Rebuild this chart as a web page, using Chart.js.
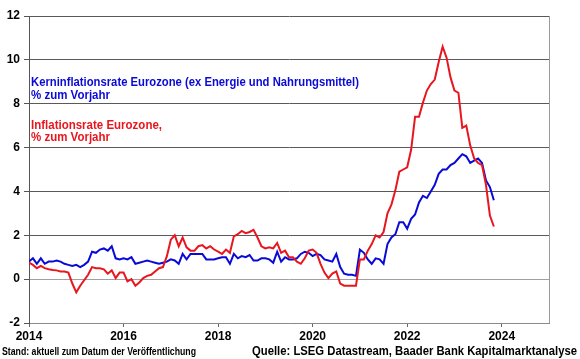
<!DOCTYPE html>
<html>
<head>
<meta charset="utf-8">
<script src="https://cdn.jsdelivr.net/npm/chart.js@4"></script>
<style>
  html, body { margin: 0; padding: 0; background: #fff; }
  #wrap { width: 580px; height: 359px; }
</style>
</head>
<body>
<div id="wrap"><canvas id="chart" width="580" height="359"></canvas></div>
<script>
// monthly values, Jan 2014 .. Nov 2023
const startYear = 2014;

// Kerninflationsrate Eurozone (ex Energie und Nahrungsmittel), % yoy
const coreRate = [
    0.8, 0.95, 0.7, 0.95, 0.7, 0.8, 0.8, 0.85, 0.8, 0.7, 0.65, 0.6,      // 2014
    0.65, 0.55, 0.65, 0.8, 1.25, 1.2, 1.35, 1.4, 1.3, 1.5, 0.95, 0.9,    // 2015
    0.95, 0.9, 1.0, 0.7, 0.75, 0.8, 0.85, 0.8, 0.75, 0.7, 0.75, 0.8,     // 2016
    0.9, 0.85, 0.7, 1.15, 0.9, 1.15, 1.15, 1.15, 1.15, 0.9, 0.9, 0.9,    // 2017
    0.95, 1.0, 1.0, 0.7, 1.15, 0.95, 1.05, 1.0, 1.1, 0.85, 0.85, 0.95,   // 2018
    0.95, 0.9, 0.75, 1.25, 0.8, 1.0, 0.9, 0.9, 0.95, 1.15, 1.25, 1.2,    // 2019
    1.05, 1.15, 1.1, 0.9, 0.85, 0.8, 1.15, 0.55, 0.25, 0.2, 0.2, 0.15,   // 2020
    1.35, 1.2, 0.9, 0.7, 0.95, 0.9, 0.7, 1.6, 1.9, 2.05, 2.6, 2.6,       // 2021
    2.3, 2.75, 2.95, 3.5, 3.8, 3.7, 4.0, 4.3, 4.8, 5.0, 5.0, 5.2,        // 2022
    5.3, 5.5, 5.7, 5.6, 5.3, 5.4, 5.5, 5.3, 4.5, 4.2, 3.6                // 2023
];

// Inflationsrate Eurozone, % yoy
const headlineRate = [
    0.75, 0.65, 0.5, 0.6, 0.5, 0.45, 0.42, 0.4, 0.35, 0.35, 0.3, -0.2,   // 2014
    -0.6, -0.3, -0.05, 0.2, 0.55, 0.5, 0.5, 0.45, 0.25, 0.4, 0.05, 0.3,  // 2015
    0.3, -0.1, 0.0, -0.3, -0.15, 0.05, 0.15, 0.2, 0.35, 0.5, 0.55, 1.05, // 2016
    1.8, 2.0, 1.5, 1.9, 1.45, 1.3, 1.3, 1.5, 1.55, 1.4, 1.5, 1.35,       // 2017
    1.25, 1.15, 1.35, 1.2, 1.95, 2.05, 2.2, 2.1, 2.15, 2.25, 1.9, 1.5,   // 2018
    1.4, 1.45, 1.4, 1.65, 1.2, 1.3, 1.0, 1.0, 0.8, 0.7, 0.95, 1.3,       // 2019
    1.35, 1.2, 0.7, 0.3, 0.05, 0.25, 0.35, -0.2, -0.3, -0.3, -0.3, -0.3, // 2020
    0.9, 0.9, 1.3, 1.6, 2.0, 1.9, 2.15, 3.0, 3.4, 4.05, 4.9, 5.0,        // 2021
    5.1, 5.9, 7.4, 7.4, 8.05, 8.6, 8.9, 9.1, 9.9, 10.6, 10.1, 9.2,       // 2022
    8.6, 8.5, 6.9, 7.0, 6.1, 5.5, 5.3, 5.2, 4.3, 2.9, 2.4                // 2023
];

const xTicks = [2014, 2016, 2018, 2020, 2022, 2024];
const yTicks = [-2, 0, 2, 4, 6, 8, 10, 12];

const coreLabel = ["Kerninflationsrate Eurozone (ex Energie und Nahrungsmittel)", "% zum Vorjahr"];
const headlineLabel = ["Inflationsrate Eurozone,", "% zum Vorjahr"];
const footLeft = "Stand: aktuell zum Datum der Veröffentlichung";
const footRight = "Quelle: LSEG Datastream, Baader Bank Kapitalmarktanalyse";

const FONT = "'Liberation Sans', Arial, sans-serif";
const BLUE = '#0a0ad6';
const RED = '#e8161e';

const toPoints = arr => arr.map((v, i) => ({ x: startYear + i / 12, y: v }));

// squeeze a text line into a given width (source uses a narrow bold face)
function fitText(ctx, str, x, y, width, font, color) {
    ctx.save();
    ctx.font = font;
    const w = ctx.measureText(str).width;
    ctx.translate(x, y);
    ctx.scale(width / w, 1);
    ctx.fillStyle = color;
    ctx.textBaseline = 'middle';
    ctx.textAlign = 'left';
    ctx.fillText(str, 0, 0);
    ctx.restore();
}

const decorations = {
    id: 'decorations',
    afterDatasetsDraw(chart) {
        const { ctx, chartArea } = chart;
        // right frame line
        ctx.save();
        ctx.strokeStyle = '#9a9a9a';
        ctx.lineWidth = 1;
        ctx.beginPath();
        ctx.moveTo(chartArea.right + 0.5, chartArea.top);
        ctx.lineTo(chartArea.right + 0.5, chartArea.bottom);
        ctx.stroke();
        ctx.restore();

        const lf = `bold 12px ${FONT}`;
        fitText(ctx, coreLabel[0], 31, 83, 328, lf, BLUE);
        fitText(ctx, coreLabel[1], 31, 96, 79, lf, BLUE);
        fitText(ctx, headlineLabel[0], 31, 126, 131, lf, RED);
        fitText(ctx, headlineLabel[1], 31, 138, 79, lf, RED);

        fitText(ctx, footLeft, 2, 352.5, 194, `bold 10px ${FONT}`, '#000');
        fitText(ctx, footRight, 252, 351.5, 325, `bold 12px ${FONT}`, '#000');
    }
};

const tickFont = { family: FONT, size: 12, weight: 'bold' };

new Chart(document.getElementById('chart'), {
    type: 'line',
    data: {
        datasets: [
            {
                label: headlineLabel.join(' '),
                data: toPoints(headlineRate),
                borderColor: RED,
                borderWidth: 2,
                pointRadius: 0,
                tension: 0
            },
            {
                label: coreLabel.join(' '),
                data: toPoints(coreRate),
                borderColor: BLUE,
                borderWidth: 2,
                pointRadius: 0,
                tension: 0
            }
        ]
    },
    options: {
        responsive: false,
        animation: false,
        layout: { padding: { top: 16, right: 31, left: 0, bottom: 0 } },
        plugins: { legend: { display: false }, tooltip: { enabled: false } },
        scales: {
            x: {
                type: 'linear',
                min: 2014,
                max: 2025,
                afterBuildTicks: s => { s.ticks = xTicks.map(v => ({ value: v })); },
                afterFit: s => { s.height = 36; },
                grid: { drawOnChartArea: false, drawTicks: true, tickLength: 4, tickColor: '#666' },
                border: { color: '#8a8a8a', width: 1 },
                ticks: {
                    font: tickFont, color: '#000', padding: 2, maxRotation: 0, autoSkip: false,
                    callback: v => String(v)
                }
            },
            y: {
                min: -2,
                max: 12,
                afterBuildTicks: s => { s.ticks = yTicks.map(v => ({ value: v })); },
                afterFit: s => { s.width = 29; },
                grid: {
                    color: c => (c.tick && (c.tick.value === 0 || c.tick.value === -2)) ? '#a0a0a0' : '#5a5a5a',
                    tickLength: 5,
                    tickColor: '#555'
                },
                border: { color: '#555', width: 1 },
                ticks: { font: tickFont, color: '#000', padding: 4, callback: v => String(v) }
            }
        }
    },
    plugins: [decorations]
});
</script>
</body>
</html>
